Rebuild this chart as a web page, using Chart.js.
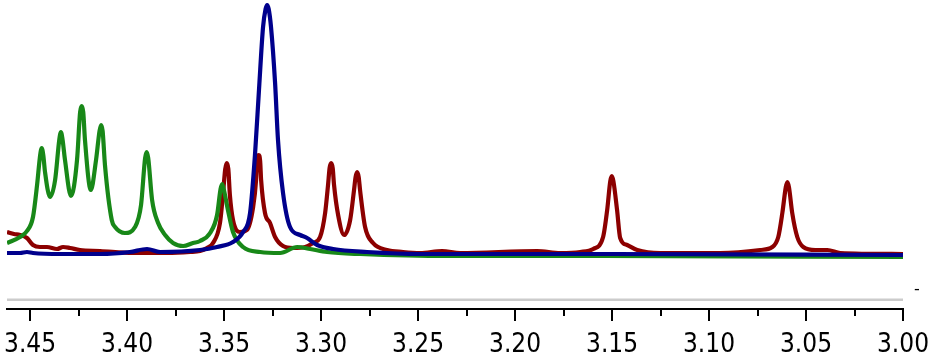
<!DOCTYPE html>
<html>
<head>
<meta charset="utf-8">
<script src="https://cdn.jsdelivr.net/npm/chart.js@4/dist/chart.umd.min.js"></script>
<style>
html,body{margin:0;padding:0;background:#fff;}
#wrap{width:935px;height:362px;}
</style>
</head>
<body>
<div id="wrap"><canvas id="c" width="935" height="362"></canvas></div>
<script>
// ---- Data (chemical shift in ppm, intensity in arbitrary units above baseline) ----
const xTickValues = [3.45, 3.40, 3.35, 3.30, 3.25, 3.20, 3.15, 3.10, 3.05, 3.00];
const xMinorValues = [3.425, 3.375, 3.325, 3.275, 3.225, 3.175, 3.125, 3.075, 3.025];
const xRange = [3.00, 3.4619];
const yRange = [-54, 255];
const referenceLevel = -44.7;

const greenShift = [3.4619,3.4552,3.4516,3.4485,3.4464,3.4448,3.4440,3.4432,3.4423,3.4397,3.4371,3.4349,3.4341,3.4333,3.4320,3.4289,3.4258,3.4242,3.4234,3.4226,3.4217,3.4187,3.4160,3.4142,3.4134,3.4126,3.4114,3.4079,3.4062,3.4011,3.3959,3.3928,3.3907,3.3899,3.3891,3.3871,3.3840,3.3804,3.3763,3.3711,3.3660,3.3624,3.3572,3.3536,3.3518,3.3510,3.3502,3.3480,3.3454,3.3402,3.3314,3.3211,3.3123,3.3056,3.2969,3.2799,3.2335,3.1561,3.0000];
const greenIntensity = [12,18,24,38,70,100,107,100,83,58,75,116,123,116,95,59,95,143,149,143,115,65,95,124,130,124,90,35,28,22,28,50,97,103,97,55,32,20,12,9,12,14,22,40,66,71,66,45,23,8,3,2,8,6,3,1,-1,-1,-2];

const redShift = [3.4619,3.4583,3.4552,3.4516,3.4485,3.4449,3.4413,3.4361,3.4330,3.4294,3.4243,3.4139,3.3969,3.3794,3.3675,3.3624,3.3588,3.3557,3.3521,3.3506,3.3494,3.3486,3.3478,3.3470,3.3454,3.3418,3.3382,3.3350,3.3335,3.3330,3.3322,3.3314,3.3309,3.3289,3.3263,3.3237,3.3196,3.3144,3.3082,3.3041,3.3005,3.2979,3.2964,3.2956,3.2948,3.2940,3.2933,3.2912,3.2881,3.2850,3.2830,3.2822,3.2814,3.2806,3.2799,3.2773,3.2732,3.2660,3.2577,3.2489,3.2376,3.2283,3.1886,3.1767,3.1664,3.1597,3.1546,3.1525,3.1509,3.1501,3.1493,3.1474,3.1458,3.1422,3.1370,3.1251,3.0942,3.0736,3.0674,3.0643,3.0622,3.0604,3.0596,3.0588,3.0571,3.0545,3.0514,3.0452,3.0390,3.0323,3.0000];
const redIntensity = [23,21,20,17,10,8,8,6,8,7,5,4,2,2,3,4,7,12,32,60,86,92,86,60,35,23,25,48,75,94,100,94,75,42,32,18,9,7,8,12,18,42,70,87,92,87,70,40,20,35,65,78,83,78,65,28,12,5,3,2,4,2,4,2,3,6,18,45,74,79,74,45,17,10,5,2,2,5,8,18,42,68,73,68,42,18,8,5,5,2,1];

const blueShift = [3.4619,3.4552,3.4516,3.4485,3.4346,3.4139,3.3985,3.3897,3.3830,3.3624,3.3536,3.3454,3.3402,3.3366,3.3340,3.3320,3.3299,3.3286,3.3278,3.3270,3.3258,3.3237,3.3222,3.3196,3.3160,3.3108,3.3072,3.3020,3.2938,3.2763,3.2489,3.1499,3.0000];
const blueIntensity = [2,2,3,2,1,1,3,6,3,5,8,13,23,42,102,165,228,246,250,246,228,172,115,62,28,20,17,10,6,3,1,1,0];

function zip(xs, ys){ return xs.map((x,i)=>({x:x, y:ys[i]})); }

const LABEL_FONT = '"DejaVu Sans Condensed", "DejaVu Sans", sans-serif';

const minorTicks = {
  id:'minorTicks',
  afterDraw(chart){
    const s = chart.scales.x, ctx = chart.ctx, b = chart.chartArea.bottom;
    ctx.save();
    ctx.strokeStyle = '#000'; ctx.lineWidth = 2;
    xMinorValues.forEach(v=>{
      const px = Math.round(s.getPixelForValue(v));
      ctx.beginPath(); ctx.moveTo(px, b); ctx.lineTo(px, b+7); ctx.stroke();
    });
    ctx.fillStyle = '#000';
    ctx.font = '16px "DejaVu Sans"';
    ctx.textAlign = 'center'; ctx.textBaseline = 'middle';
    ctx.fillText('-', chart.chartArea.right + 14, s.top - 19);
    ctx.restore();
  }
};

new Chart(document.getElementById('c'), {
  type:'line',
  data:{
    datasets:[
      {label:'blue', data:zip(blueShift, blueIntensity), borderColor:'rgb(0,0,140)', borderWidth:4.2, pointRadius:0, cubicInterpolationMode:'monotone', order:0},
      {label:'green', data:zip(greenShift, greenIntensity), borderColor:'rgb(24,136,24)', borderWidth:4.2, pointRadius:0, cubicInterpolationMode:'monotone', order:1},
      {label:'red', data:zip(redShift, redIntensity), borderColor:'rgb(140,0,0)', borderWidth:4.2, pointRadius:0, cubicInterpolationMode:'monotone', order:2},
      {label:'ref', data:zip(xRange, [referenceLevel, referenceLevel]), borderColor:'#cccccc', borderWidth:2.5, pointRadius:0, order:3}
    ]
  },
  options:{
    responsive:false, animation:false, devicePixelRatio:1,
    layout:{padding:{left:7, right:32, top:0, bottom:0}},
    plugins:{legend:{display:false}, tooltip:{enabled:false}},
    scales:{
      x:{
        type:'linear', reverse:true, min:xRange[0], max:xRange[1],
        afterBuildTicks(scale){ scale.ticks = xTickValues.map(v=>({value:v})); },
        afterFit(scale){ scale.height = 53; scale.paddingLeft = 0; scale.paddingRight = 0; },
        ticks:{ callback:(v)=>Number(v).toFixed(2), color:'#000', padding:9, maxRotation:0, autoSkip:false,
          font:{family:LABEL_FONT, size:26} },
        grid:{ drawOnChartArea:false, tickLength:12, tickColor:'#000', tickWidth:2, lineWidth:2, color:'#000' },
        border:{ color:'#000', width:2 }
      },
      y:{ display:false, min:yRange[0], max:yRange[1] }
    }
  },
  plugins:[minorTicks]
});
</script>
</body>
</html>
